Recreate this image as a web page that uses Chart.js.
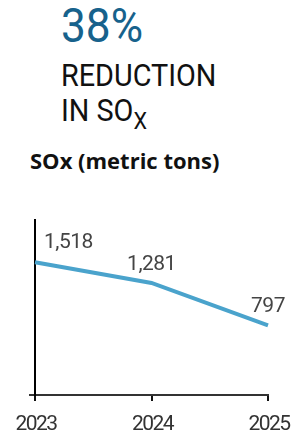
<!DOCTYPE html>
<html>
<head>
<meta charset="utf-8">
<script src="https://cdn.jsdelivr.net/npm/chart.js@4"></script>
<style>
  html, body { margin: 0; padding: 0; background: #fff; }
  body { width: 295px; height: 440px; position: relative; overflow: hidden; }
  .big { position: absolute; left: 61px; top: 2px; font-family: Roboto, sans-serif; font-size: 48px; color: #17628c; line-height: 1; transform: scaleX(0.92); transform-origin: left top; }
  .sub { position: absolute; left: 61px; font-family: Roboto, sans-serif; font-size: 32px; color: #111; line-height: 1; transform: scaleX(0.9); transform-origin: left top; }
  .sub sub { font-size: 24px; vertical-align: -8px; line-height: 0; }
  .ctitle { position: absolute; left: 30px; top: 145px; font-family: "Open Sans", sans-serif; font-weight: bold; font-size: 22px; color: #111; }
  .wrap { position: absolute; left: 0; top: 200px; width: 295px; height: 240px; }
</style>
</head>
<body>
<div class="big">38%</div>
<div class="sub" style="top:59px">REDUCTION</div>
<div class="sub" style="top:94px">IN SO<sub>X</sub></div>
<div class="ctitle">SOx (metric tons)</div>
<div class="wrap"><canvas id="soxChart"></canvas></div>
<script>
// chart data
const years = ['2023', '2024', '2025'];
const soxTons = [1518, 1281, 797];
const valueLabels = ['1,518', '1,281', '797'];

// year labels under the x ticks, drawn narrow like the condensed face of the original
const yearLabels = {
    id: 'yearLabels',
    afterDraw(chart) {
        const ctx = chart.ctx;
        const xScale = chart.scales.x;
        ctx.save();
        ctx.letterSpacing = '-1.5px';
        ctx.font = '21px Roboto, sans-serif';
        ctx.fillStyle = '#333';
        ctx.textAlign = 'center';
        ctx.textBaseline = 'alphabetic';
        xScale.ticks.forEach((t, i) => {
            ctx.fillText(chart.data.labels[i], xScale.getPixelForTick(i) + 1, chart.chartArea.bottom + 35);
        });
        ctx.restore();
    }
};

// draws the value above each point
const pointLabels = {
    id: 'pointLabels',
    afterDatasetsDraw(chart) {
        const ctx = chart.ctx;
        const meta = chart.getDatasetMeta(0);
        ctx.save();
        ctx.letterSpacing = '-0.5px';
        ctx.font = '21px Roboto, sans-serif';
        ctx.fillStyle = '#444';
        ctx.textBaseline = 'alphabetic';
        meta.data.forEach((pt, i) => {
            if (i === 0) {
                ctx.textAlign = 'left';
                ctx.fillText(valueLabels[i], pt.x + 9, pt.y - 14);
            } else {
                ctx.textAlign = 'center';
                ctx.fillText(valueLabels[i], pt.x, pt.y - 13);
            }
        });
        ctx.restore();
    }
};

new Chart(document.getElementById('soxChart'), {
    type: 'line',
    data: {
        labels: years,
        datasets: [{
            data: soxTons,
            borderColor: '#4aa3cc',
            borderWidth: 4,
            pointRadius: 0,
            tension: 0,
            fill: false
        }]
    },
    options: {
        responsive: true,
        maintainAspectRatio: false,
        animation: false,
        layout: { padding: { left: 29, right: 27, top: 20, bottom: 39 } },
        plugins: {
            legend: { display: false },
            tooltip: { enabled: false }
        },
        scales: {
            x: {
                offset: false,
                border: { display: true, color: '#333', width: 2 },
                grid: { drawOnChartArea: false, drawTicks: true, tickLength: 6, color: '#111', lineWidth: 2 },
                ticks: { display: false }
            },
            y: {
                min: 0,
                max: 2000,
                afterBuildTicks: axis => { axis.ticks = [{ value: 0 }]; },
                border: { display: true, color: '#000', width: 2 },
                grid: { drawOnChartArea: false, drawTicks: true, tickLength: 6, color: '#333', lineWidth: 2 },
                ticks: { display: false }
            }
        }
    },
    plugins: [pointLabels, yearLabels]
});
</script>
</body>
</html>
